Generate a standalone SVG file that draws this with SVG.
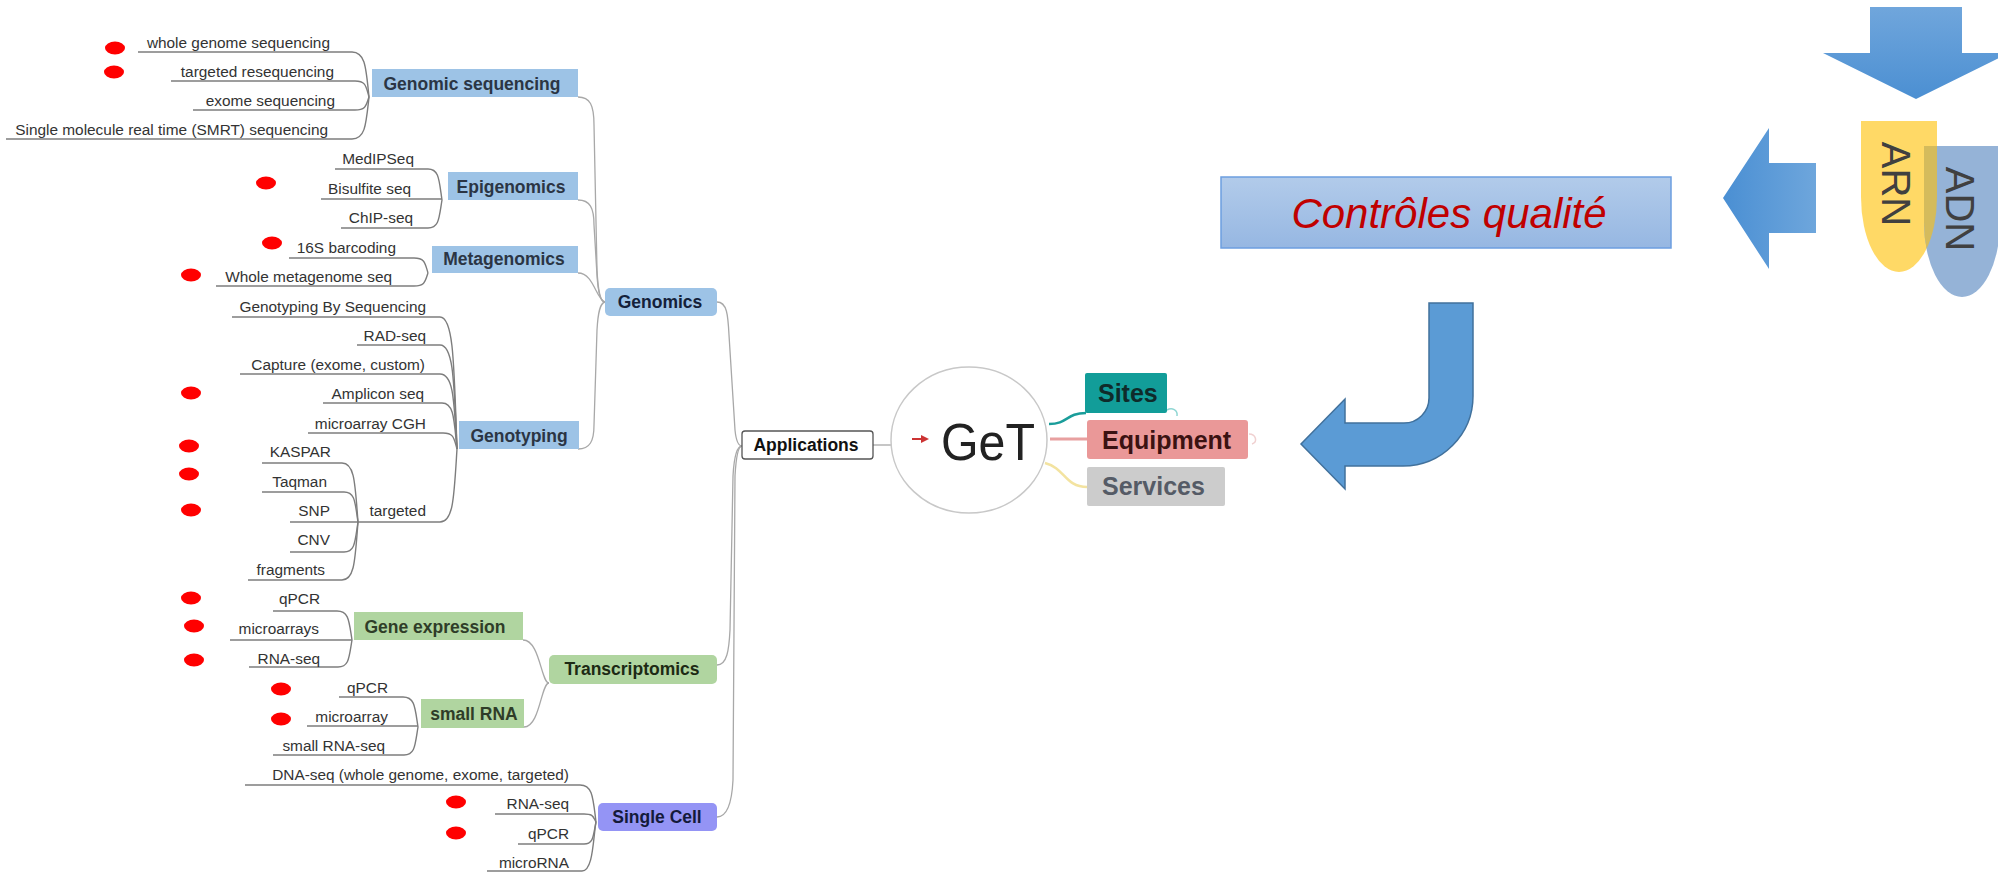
<svg xmlns="http://www.w3.org/2000/svg" width="1998" height="872" viewBox="0 0 1998 872">
<defs>
<style>
.leaf{font-family:"Liberation Sans",Arial,sans-serif;font-size:15.4px;fill:#333333;text-anchor:end}
.lbl{font-family:"Liberation Sans",Arial,sans-serif;font-size:17.5px;font-weight:bold;fill:#2b3544;text-anchor:middle}
.big{font-family:"Liberation Sans",Arial,sans-serif;font-size:25px;font-weight:bold}
.ln{fill:none;stroke:#7d7d7d;stroke-width:1.4}
.ln2{fill:none;stroke:#a8a8a8;stroke-width:1.3}
.dot{fill:#ff0000}
.b2{fill:#9dc3e6}
.g2{fill:#b0d5a0}
.vt{font-family:"Liberation Sans",Arial,sans-serif;font-size:40px;fill:#404040;text-anchor:middle}
</style>
<linearGradient id="gDown" x1="0" y1="0" x2="0" y2="1"><stop offset="0" stop-color="#70a6dc"/><stop offset="1" stop-color="#4b8fd2"/></linearGradient>
<linearGradient id="gLeft" x1="0" y1="0" x2="1" y2="0"><stop offset="0" stop-color="#4a8fd3"/><stop offset="1" stop-color="#6ea6dc"/></linearGradient>
<linearGradient id="gBox" x1="0" y1="0" x2="0" y2="1"><stop offset="0" stop-color="#b2cbea"/><stop offset="1" stop-color="#96b7e2"/></linearGradient>
<clipPath id="clipARN"><path d="M1861,121 H1937 V197 A38,75 0 0 1 1861,197 Z"/></clipPath>
</defs>
<rect width="1998" height="872" fill="#ffffff"/>

<g id="connectors">
<path class="ln" d="M138,52 H352 C365.4,52 366,67.8 369,97"/>
<path class="ln" d="M171,81 H355 C366.2,81 366,86.6 369,97"/>
<path class="ln" d="M193,110 H355 C366.2,110 366,105.5 369,97"/>
<path class="ln" d="M6,139 H352 C365.4,139 366,124.3 369,97"/>
<path class="ln" d="M335,169 H428 C439.2,169 439,179.9 442,200"/>
<path class="ln" d="M321,199 H442"/>
<path class="ln" d="M341,228 H428 C439.2,228 439,218.2 442,200"/>
<path class="ln" d="M289,258 H414 C425.2,258 425,263.3 428,273"/>
<path class="ln" d="M216,286 H414 C425.2,286 425,281.5 428,273"/>
<path class="ln" d="M232,317 H440 C453.6,317 454,363.2 457,449"/>
<path class="ln" d="M357,345 H440 C453.6,345 454,381.4 457,449"/>
<path class="ln" d="M240,374 H440 C453.6,374 454,400.3 457,449"/>
<path class="ln" d="M323,403 H442 C454,403 454,419.1 457,449"/>
<path class="ln" d="M308,433 H443 C454.2,433 454,438.6 457,449"/>
<path class="ln" d="M358,522 H440 C453.6,522 454,496.5 457,449"/>
<path class="ln" d="M262,463 H342 C354.8,463 355,483.7 358,522"/>
<path class="ln" d="M262,492 H344 C355.2,492 355,502.5 358,522"/>
<path class="ln" d="M290,522 H358"/>
<path class="ln" d="M290,552 H344 C355.2,552 355,541.5 358,522"/>
<path class="ln" d="M248,580 H342 C354.8,580 355,559.7 358,522"/>
<path class="ln" d="M273,611 H337 C349,611 349,621.2 352,640"/>
<path class="ln" d="M230,640 H352"/>
<path class="ln" d="M249,667 H338 C349.2,667 349,657.6 352,640"/>
<path class="ln" d="M339,697 H403 C415,697 415,707.5 418,727"/>
<path class="ln" d="M307,726 H418"/>
<path class="ln" d="M273,755 H404 C415.2,755 415,745.2 418,727"/>
<path class="ln" d="M245,785 H580 C592.8,785 593,798 596,822"/>
<path class="ln" d="M495,814 H584 C593.6,814 593,816.8 596,822"/>
<path class="ln" d="M518,844 H584 C593.6,844 593,836.3 596,822"/>
<path class="ln" d="M487,871 H582 C593.2,871 593,839.2 596,822"/>
<path class="ln2" d="M578,97 C590,97 594,105 594,125 L597,270 C598,290 600,302 605,302"/>
<path class="ln2" d="M578,200 C590,200 594,208 594,225 L597,275 C598,292 600,302 605,302"/>
<path class="ln2" d="M578,273 C594,273 596,300 605,302"/>
<path class="ln2" d="M578,449 C590,449 594,441 594,425 L597,330 C598,312 600,303 605,302"/>
<path class="ln2" d="M523,640 C540,640 541,683 549,683"/>
<path class="ln2" d="M524,727 C540,727 541,683 549,683"/>
<path class="ln2" d="M717,302 C727,302 728,315 729,335 L735,430 C736,440 738,446 742,446"/>
<path class="ln2" d="M717,665 C727,665 729,650 730,630 L733,476 C734,458 737,446 742,446"/>
<path class="ln2" d="M717,817 C728,817 732,800 733,780 L735,476 C736,458 738,446 742,446"/>
<path class="ln2" d="M873,445 H892"/>
<path fill="none" stroke="#1a9d9a" stroke-width="2.5" d="M1049,424 C1068,424 1066,413 1086,413"/>
<path fill="none" stroke="#8fd6d3" stroke-width="1.5" d="M1167,410 C1172,407 1178,410 1177,416"/>
<path fill="none" stroke="#e8a0a0" stroke-width="3" d="M1050,439 H1087"/>
<path fill="none" stroke="#f0d0d0" stroke-width="1.5" d="M1249,434 C1256,434 1258,442 1252,444"/>
<path fill="none" stroke="#f3e3a0" stroke-width="2.5" d="M1045,463 C1065,468 1065,487 1087,487"/>
</g>

<g id="dots">
<ellipse class="dot" cx="115" cy="48" rx="10" ry="6.5"/>
<ellipse class="dot" cx="114" cy="72" rx="10" ry="6.5"/>
<ellipse class="dot" cx="266" cy="183" rx="10" ry="6.5"/>
<ellipse class="dot" cx="272" cy="243" rx="10" ry="6.5"/>
<ellipse class="dot" cx="191" cy="275" rx="10" ry="6.5"/>
<ellipse class="dot" cx="191" cy="393" rx="10" ry="6.5"/>
<ellipse class="dot" cx="189" cy="446" rx="10" ry="6.5"/>
<ellipse class="dot" cx="189" cy="474" rx="10" ry="6.5"/>
<ellipse class="dot" cx="191" cy="510" rx="10" ry="6.5"/>
<ellipse class="dot" cx="191" cy="598" rx="10" ry="6.5"/>
<ellipse class="dot" cx="194" cy="626" rx="10" ry="6.5"/>
<ellipse class="dot" cx="194" cy="660" rx="10" ry="6.5"/>
<ellipse class="dot" cx="281" cy="689" rx="10" ry="6.5"/>
<ellipse class="dot" cx="281" cy="719" rx="10" ry="6.5"/>
<ellipse class="dot" cx="456" cy="802" rx="10" ry="6.5"/>
<ellipse class="dot" cx="456" cy="833" rx="10" ry="6.5"/>
</g>

<g id="leaves">
<text class="leaf" x="330" y="48">whole genome sequencing</text>
<text class="leaf" x="334" y="76.5">targeted resequencing</text>
<text class="leaf" x="335" y="105.5">exome sequencing</text>
<text class="leaf" x="328" y="134.5">Single molecule real time (SMRT) sequencing</text>
<text class="leaf" x="414" y="163.5">MedIPSeq</text>
<text class="leaf" x="411" y="193.5">Bisulfite seq</text>
<text class="leaf" x="413" y="222.5">ChIP-seq</text>
<text class="leaf" x="396" y="252.5">16S barcoding</text>
<text class="leaf" x="392" y="281.5">Whole metagenome seq</text>
<text class="leaf" x="426" y="311.5">Genotyping By Sequencing</text>
<text class="leaf" x="426" y="340.5">RAD-seq</text>
<text class="leaf" x="425" y="369.5">Capture (exome, custom)</text>
<text class="leaf" x="424" y="398.5">Amplicon seq</text>
<text class="leaf" x="426" y="428.5">microarray CGH</text>
<text class="leaf" x="331" y="456.5">KASPAR</text>
<text class="leaf" x="327" y="486.5">Taqman</text>
<text class="leaf" x="330" y="515.5">SNP</text>
<text class="leaf" x="426" y="515.5">targeted</text>
<text class="leaf" x="330" y="544.5">CNV</text>
<text class="leaf" x="325" y="574.5">fragments</text>
<text class="leaf" x="320" y="603.5">qPCR</text>
<text class="leaf" x="319" y="633.5">microarrays</text>
<text class="leaf" x="320" y="663.5">RNA-seq</text>
<text class="leaf" x="388" y="692.5">qPCR</text>
<text class="leaf" x="388" y="721.5">microarray</text>
<text class="leaf" x="385" y="750.5">small RNA-seq</text>
<text class="leaf" x="569" y="779.5">DNA-seq (whole genome, exome, targeted)</text>
<text class="leaf" x="569" y="808.5">RNA-seq</text>
<text class="leaf" x="569" y="838.5">qPCR</text>
<text class="leaf" x="569" y="867.5">microRNA</text>
</g>

<g id="n-genomic-sequencing"><rect class="b2" x="372" y="69" width="206" height="28"/><text class="lbl" x="472" y="90">Genomic sequencing</text></g>
<g id="n-epigenomics"><rect class="b2" x="448" y="172" width="130" height="28"/><text class="lbl" x="511" y="193">Epigenomics</text></g>
<g id="n-metagenomics"><rect class="b2" x="432" y="246" width="146" height="27"/><text class="lbl" x="504" y="265">Metagenomics</text></g>
<g id="n-genotyping"><rect class="b2" x="459" y="421" width="120" height="28"/><text class="lbl" x="519" y="442">Genotyping</text></g>
<g id="n-gene-expression"><rect class="g2" x="354" y="612" width="169" height="28"/><text class="lbl" x="435" y="633" style="fill:#2f3d28">Gene expression</text></g>
<g id="n-small-rna"><rect class="g2" x="421" y="699" width="103" height="29"/><text class="lbl" x="474" y="720" style="fill:#2f3d28">small RNA</text></g>
<g id="n-genomics"><rect class="b2" x="605" y="288" width="112" height="28" rx="5"/><text class="lbl" x="660" y="308" style="fill:#14213a">Genomics</text></g>
<g id="n-transcriptomics"><rect class="g2" x="549" y="655" width="168" height="29" rx="5"/><text class="lbl" x="632" y="675" style="fill:#1d2a14">Transcriptomics</text></g>
<g id="n-single-cell"><rect fill="#9494f5" x="598" y="803" width="119" height="28" rx="5"/><text class="lbl" x="657" y="823" style="fill:#141a3a">Single Cell</text></g>
<g id="n-applications"><rect x="742" y="431" width="131" height="28" rx="3" fill="#ffffff" stroke="#555555" stroke-width="1.3"/><text class="lbl" x="806" y="451" style="fill:#111111">Applications</text></g>

<g id="n-get">
<ellipse cx="969" cy="440" rx="78" ry="73" fill="#ffffff" stroke="#c8c8c8" stroke-width="1.5"/>
<path d="M912,439 H922" stroke="#cc3333" stroke-width="2" fill="none"/>
<path d="M921,435 L929,439 L921,443 Z" fill="#cc3333"/>
<text x="988" y="460" font-family="'Liberation Sans',Arial,sans-serif" font-size="52" fill="#222222" text-anchor="middle" textLength="94" lengthAdjust="spacingAndGlyphs">GeT</text>
</g>
<g id="n-sites"><rect x="1085" y="373" width="82" height="40" rx="2" fill="#129d99"/><text class="big" x="1098" y="402" fill="#0f2b2a">Sites</text></g>
<g id="n-equipment"><rect x="1087" y="420" width="161" height="39" rx="3" fill="#ea9898"/><text class="big" x="1102" y="449" fill="#3b1212">Equipment</text></g>
<g id="n-services"><rect x="1087" y="467" width="138" height="39" rx="2" fill="#cccccc"/><text class="big" x="1102" y="495" fill="#555b66">Services</text></g>

<g id="n-controles">
<rect x="1221" y="177" width="450" height="71" fill="url(#gBox)" stroke="#6c9ee0" stroke-width="1.5"/>
<text x="1449" y="228" font-family="'Liberation Sans',Arial,sans-serif" font-size="42" font-style="italic" fill="#c00000" text-anchor="middle">Contrôles qualité</text>
</g>

<g id="n-arn-adn">
<path d="M1861,121 H1937 V197 A38,75 0 0 1 1861,197 Z" fill="#ffd966"/>
<path d="M1924,146 H2000 V222 A38,75 0 0 1 1924,222 Z" fill="#95b3d7"/>
<path d="M1924,146 H2000 V222 A38,75 0 0 1 1924,222 Z" fill="#d4bb5c" clip-path="url(#clipARN)"/>
<text class="vt" transform="translate(1882,184) rotate(90)">ARN</text>
<text class="vt" transform="translate(1946,209) rotate(90)">ADN</text>
</g>

<g id="arrows">
<path id="arrow-down" d="M1870,7 H1962 V53 H2009 L1916,99 L1823,53 H1870 Z" fill="url(#gDown)"/>
<path id="arrow-left" d="M1816,163 V233 H1769 V269 L1723,198 L1769,128 V163 Z" fill="url(#gLeft)"/>
<path id="arrow-uturn" d="M1429,303 H1473 V396 A70,70 0 0 1 1403,466 H1345 V489 L1301,444 L1345,399 V423 H1404 A25,25 0 0 0 1429,398 Z" fill="#5b9bd5" stroke="#41719c" stroke-width="1.5"/>
</g>
</svg>
